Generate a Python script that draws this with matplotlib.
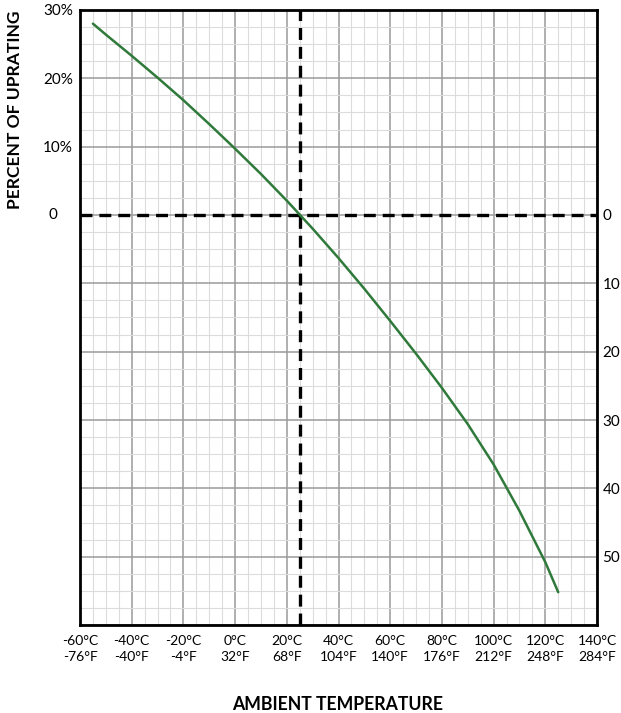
import matplotlib
matplotlib.use("Agg")
import matplotlib.pyplot as plt
import numpy as np

plt.rcParams['font.family'] = ['Lato', 'DejaVu Sans']
plt.rcParams['lines.scale_dashes'] = False

# Data (ambient temperature in °C vs percent of uprating)
temp_c = [-55, -50, -40, -30, -20, -10, 0, 10, 20, 30, 40, 50, 60, 70, 80, 90, 100, 110, 120, 125]
uprating = [28.0, 26.4, 23.3, 20.1, 16.8, 13.3, 9.7, 6.0, 2.1, -2.0, -6.3, -10.8, -15.5, -20.3,
            -25.3, -30.6, -36.5, -43.3, -50.8, -55.2]

x_ticks = [-60, -40, -20, 0, 20, 40, 60, 80, 100, 120, 140]
x_labels = ["-60°C\n-76°F", "-40°C\n-40°F", "-20°C\n-4°F", "0°C\n32°F", "20°C\n68°F",
            "40°C\n104°F", "60°C\n140°F", "80°C\n176°F", "100°C\n212°F", "120°C\n248°F",
            "140°C\n284°F"]
left_ticks = [30, 20, 10]
left_labels = ["30%", "20%", "10%"]
zero_label = "0"
right_ticks = [0, -10, -20, -30, -40, -50]
right_labels = ["0", "10", "20", "30", "40", "50"]
ref_temp = 25
ref_level = 0

W, H = 621, 713
fig = plt.figure(figsize=(W / 100, H / 100), dpi=100)
ax = fig.add_axes([80 / W, 1 - 625 / H, (597 - 80) / W, (625 - 10) / H])

ax.set_xlim(-60, 140)
ax.set_ylim(-60, 30)

# grid
ax.set_xticks(np.arange(-60, 141, 5), minor=True)
ax.set_yticks(np.arange(-60, 30.1, 2.5), minor=True)
ax.set_xticks(x_ticks)
ax.set_xticklabels(x_labels, fontsize=10, linespacing=1.45)
major_y = np.arange(-60, 31, 10)
ax.set_yticks(major_y)
ylabels = [left_labels[left_ticks.index(v)] if v in left_ticks else "" for v in major_y]
ax.set_yticklabels(ylabels, fontsize=11)
ax.grid(which='minor', color='#dcdcdc', linewidth=0.8)
ax.grid(which='major', color='#9a9a9a', linewidth=1.1)
ax.set_axisbelow(True)
ax.tick_params(which='both', length=0)
ax.tick_params(axis='x', pad=7)
ax.tick_params(axis='y', pad=5)

ax.annotate(zero_label, xy=(0, 0), xycoords=('axes fraction', 'data'),
            xytext=(-19.5, 0), textcoords='offset points', ha='center', va='center',
            fontsize=11)

for s in ax.spines.values():
    s.set_linewidth(2.0)
    s.set_color('black')

# right-hand labels
ax2 = ax.twinx()
ax2.set_ylim(ax.get_ylim())
ax2.set_yticks(right_ticks)
ax2.set_yticklabels(right_labels, fontsize=11)
ax2.tick_params(length=0, pad=4)
for s in ax2.spines.values():
    s.set_visible(False)

# reference dashed lines
ax.axhline(ref_level, color='black', linewidth=2.4, dashes=(8.6, 5), zorder=3)
ax.axvline(ref_temp, color='black', linewidth=2.4, dashes=(8.6, 5), zorder=3)

# curve
ax.plot(temp_c, uprating, color='#2f7a3a', linewidth=1.8, zorder=4,
        solid_joinstyle='round', solid_capstyle='round')

fig.text(15 / W, 1 - 110 / H, "PERCENT OF UPRATING", rotation=90, ha='center', va='center',
         fontsize=12.6, fontweight='bold')
fig.text(338 / W, 1 - 704 / H, "AMBIENT TEMPERATURE", ha='center', va='center',
         fontsize=12.7, fontweight='bold')

fig.savefig("out.png", dpi=100)
